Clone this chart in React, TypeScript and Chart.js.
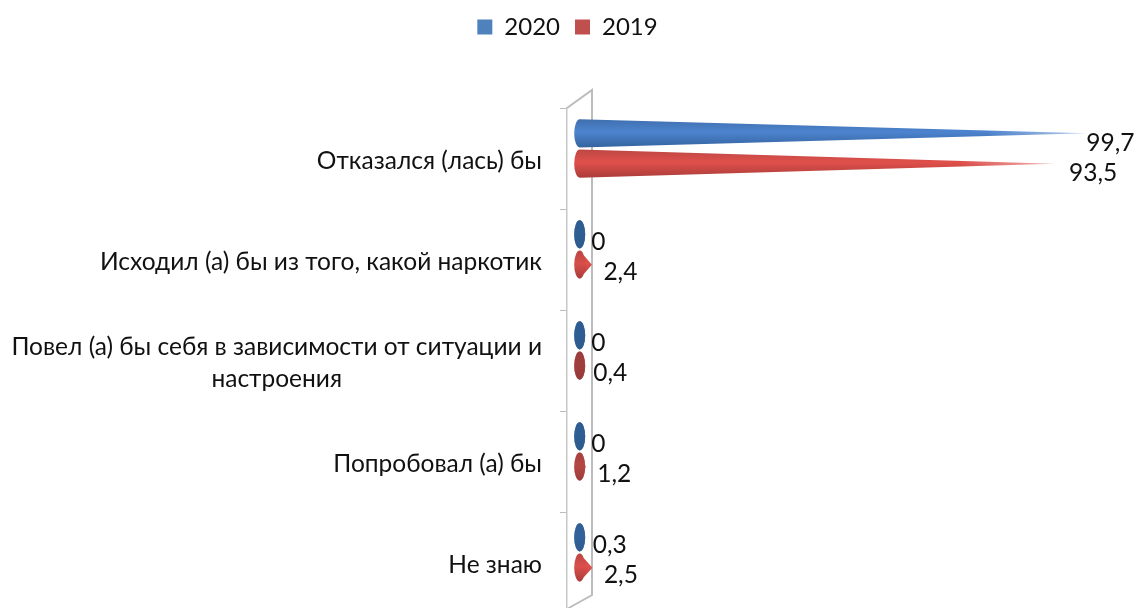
import React, { useEffect, useRef } from "react";
import { Chart, registerables } from "chart.js";

Chart.register(...registerables);

const categories = [
  "Отказался (лась) бы",
  "Исходил (а) бы из того, какой наркотик",
  ["Повел (а) бы себя в зависимости от ситуации и", "настроения"],
  "Попробовал (а) бы",
  "Не знаю",
];
const values2020 = [99.7, 0, 0, 0, 0.3];
const values2019 = [93.5, 2.4, 0.4, 1.2, 2.5];

const FONT = "Lato, 'Open Sans', sans-serif";
const FONT_SIZE = 24.5;
const TEXT = "#111111";
const WALL = "#bcbcbc";

const coneStyles = [
  { stops: ["#3f6fae", "#4d84cf", "#34639f"], base: "#2c5a8c" },
  { stops: ["#bd4745", "#e0504b", "#ab3d3b"], base: "#8c3a3a" },
];
// hand placement of the two long value labels, as in the reference
const labelNudgeX = [[-11.5], [2.8]];
const labelNudgeY = [2, 2];

const conePlugin = {
  id: "cones",
  beforeDatasetsDraw(chart: any) {
    const { ctx, chartArea: a } = chart;
    const dx = 25;
    const dy = -18;
    ctx.save();
    ctx.strokeStyle = WALL;
    ctx.lineWidth = 2;
    ctx.beginPath();
    ctx.moveTo(a.left, a.top);
    ctx.lineTo(a.left + dx, a.top + dy);
    ctx.lineTo(a.left + dx, a.bottom + dy);
    ctx.lineTo(a.left, a.bottom - 4);
    ctx.stroke();
    ctx.restore();
  },
  beforeDatasetDraw(chart: any, args: any) {
    const { ctx } = chart;
    const style = coneStyles[args.index];
    const meta = chart.getDatasetMeta(args.index);
    meta.data.forEach((el: any) => {
      const y = el.y - 10;
      const ry = el.height / 2;
      const rx = 5.5;
      const base = el.base;
      const tip = el.x;
      const len = tip - base;
      ctx.save();
      ctx.filter = "blur(0.7px)";
      const g = ctx.createLinearGradient(0, y - ry, 0, y + ry);
      g.addColorStop(0, style.stops[0]);
      g.addColorStop(0.45, style.stops[1]);
      g.addColorStop(1, style.stops[2]);
      ctx.fillStyle = g;
      ctx.beginPath();
      ctx.ellipse(base, y, rx, ry, 0, 0, Math.PI * 2);
      ctx.moveTo(base, y - ry);
      ctx.lineTo(tip, y);
      ctx.lineTo(base, y + ry);
      ctx.closePath();
      ctx.fill("nonzero");
      const capAlpha = Math.max(0, 0.9 - len / 15);
      if (capAlpha > 0) {
        ctx.globalAlpha = capAlpha;
        ctx.fillStyle = style.base;
        ctx.beginPath();
        ctx.ellipse(base, y, rx, ry, 0, 0, Math.PI * 2);
        ctx.fill();
        ctx.globalAlpha = 1;
      }
      if (len > 100) {
        const start = base + len * 0.8;
        const f = ctx.createLinearGradient(start, 0, tip, 0);
        f.addColorStop(0, "rgba(255,255,255,0)");
        f.addColorStop(1, "rgba(255,255,255,0.6)");
        ctx.fillStyle = f;
        ctx.beginPath();
        ctx.moveTo(start, y - ry);
        ctx.lineTo(tip + 2, y - 2);
        ctx.lineTo(tip + 2, y + 2);
        ctx.lineTo(start, y + ry);
        ctx.closePath();
        ctx.fill();
      }
      ctx.restore();
    });
    return false;
  },
  afterDatasetsDraw(chart: any) {
    const { ctx, scales } = chart;
    ctx.save();
    ctx.font = `${FONT_SIZE}px ${FONT}`;
    ctx.fillStyle = TEXT;

    // value labels
    ctx.textAlign = "left";
    ctx.textBaseline = "middle";
    chart.data.datasets.forEach((ds: any, di: number) => {
      chart.getDatasetMeta(di).data.forEach((el: any, i: number) => {
        const nudgeX = labelNudgeX[di][i] ?? 0;
        const nudgeY = i === 0 ? labelNudgeY[di] : 0;
        ctx.fillText(String(ds.data[i]).replace(".", ","), el.x + 11.5 + nudgeX, el.y - 2.5 + nudgeY);
      });
    });

    // category labels: right edge on one line, multi-line blocks centred
    const y = scales.y;
    const right = 542;
    const lh = 32;
    y.ticks.forEach((t: any, i: number) => {
      const lines: string[] = Array.isArray(t.label) ? t.label : [t.label];
      const w = Math.max(...lines.map((l) => ctx.measureText(l).width));
      const cy = y.getPixelForTick(i) + 3;
      ctx.textAlign = "center";
      lines.forEach((l, k) => {
        ctx.fillText(l, right - w / 2, cy + (k - (lines.length - 1) / 2) * lh);
      });
    });
    ctx.restore();
  },
};

export default function App() {
  const ref = useRef<HTMLCanvasElement>(null);
  useEffect(() => {
    const chart = new Chart(ref.current!, {
      type: "bar",
      data: {
        labels: categories as any,
        datasets: [
          { label: "2020", data: values2020, backgroundColor: "#4f81bd", categoryPercentage: 0.6, barPercentage: 0.93 },
          { label: "2019", data: values2019, backgroundColor: "#c0504d", categoryPercentage: 0.6, barPercentage: 0.93 },
        ],
      },
      options: {
        indexAxis: "y",
        animation: false,
        responsive: false,
        layout: { padding: 0 },
        scales: {
          x: {
            position: "top",
            min: -2.5,
            max: 109.3,
            afterFit: (s: any) => {
              s.height = 59;
            },
            ticks: { display: false },
            grid: { display: false },
            border: { display: false },
          },
          y: {
            afterFit: (s: any) => {
              s.width = 567;
            },
            ticks: { display: false },
            grid: { drawOnChartArea: false, tickLength: 7, color: WALL, offset: true },
            border: { color: "#c8c8c8", width: 1.5 },
          },
        },
        plugins: {
          tooltip: { enabled: false },
          legend: {
            position: "top",
            labels: {
              boxWidth: 15,
              boxHeight: 15,
              padding: 15,
              color: TEXT,
              font: { family: FONT, size: 24 },
            },
          },
        },
      } as any,
      plugins: [conePlugin as any],
    });
    return () => chart.destroy();
  }, []);
  return (
    <div style={{ position: "fixed", left: 0, top: 0, width: 1135, height: 608, overflow: "hidden", background: "#fff" }}>
      <canvas ref={ref} width={1135} height={613} style={{ display: "block" }} />
    </div>
  );
}
